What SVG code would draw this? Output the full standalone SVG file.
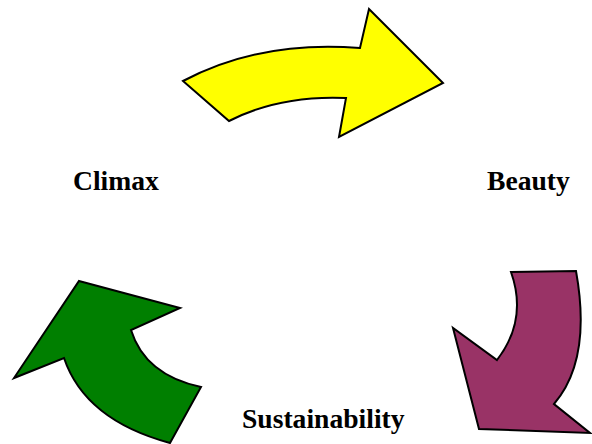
<svg xmlns="http://www.w3.org/2000/svg" width="592" height="444" viewBox="0 0 592 444">
<style>
.arrow{stroke:#000;stroke-width:2;stroke-linejoin:miter}
.lbl{font-family:"Liberation Serif","Times New Roman",serif;font-weight:bold;font-size:27.6px;fill:#000}
</style>
<rect width="592" height="444" fill="#fff"/>
<g id="connectors">
<path id="arrow-yellow" class="arrow" fill="#ffff00" d="M183,81 Q260,40 360,48 L369,9 L443,83 L339,137 L346,98 Q280,95 229,121 Z"/>
<path id="arrow-purple" class="arrow" fill="#993366" d="M511,272 L576,271 Q592,360 554,404 L590,433 L479,429 L453,328 L497,360 Q528,320 511,272 Z"/>
<path id="arrow-green" class="arrow" fill="#007f00" d="M79,281 L180,308 L131,330 Q145,375 201,387 L170,443 Q85,420 64,358 L14,378 Z"/>
</g>
<g id="node-climax"><text class="lbl" x="73" y="190">Climax</text></g>
<g id="node-beauty"><text class="lbl" x="487" y="190">Beauty</text></g>
<g id="node-sustainability"><text class="lbl" x="242" y="428">Sustainability</text></g>
</svg>
